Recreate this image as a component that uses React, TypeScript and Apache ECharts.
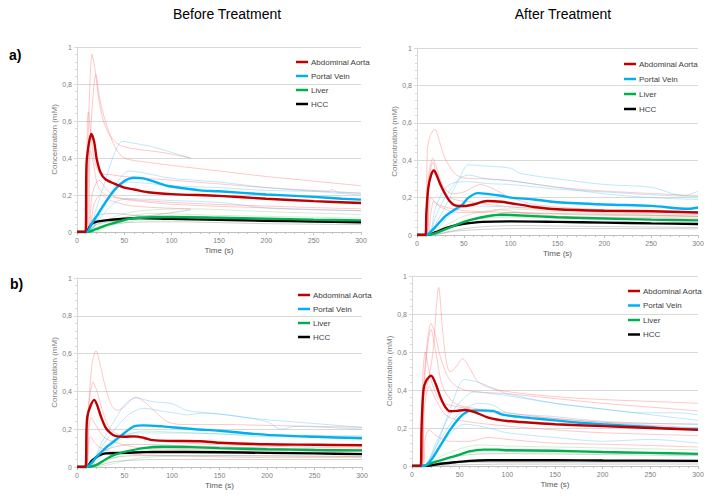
import React, { useEffect, useRef } from "react";
import * as echarts from "echarts";

// ---------- labels ----------
const COLUMN_TITLES = ["Before Treatment", "After Treatment"];
const ROW_LABELS = ["a)", "b)"];
const SERIES_NAMES = ["Abdominal Aorta", "Portal Vein", "Liver", "HCC"];
const X_NAME = "Time (s)";
const Y_NAME = "Concentration (mM)";
const X_TICKS = [0, 50, 100, 150, 200, 250, 300];
const Y_TICKS = [0, 0.2, 0.4, 0.6, 0.8, 1];

// ---------- panel a) before ----------
const aB_aortaMean = [[0,0],[9,0],[10,0.36],[12,0.46],[15,0.53],[18,0.49],[21,0.39],[25,0.32],[30,0.285],[40,0.26],[50,0.24],[60,0.23],[75,0.215],[100,0.205],[150,0.195],[200,0.18],[250,0.167],[300,0.157]];
const aB_portalMean = [[0,0],[10,0],[15,0.04],[20,0.08],[30,0.16],[40,0.23],[50,0.275],[60,0.293],[70,0.29],[80,0.275],[95,0.25],[110,0.238],[130,0.225],[150,0.22],[200,0.203],[250,0.19],[280,0.18],[300,0.175]];
const aB_liverMean = [[0,0],[10,0],[20,0.015],[30,0.035],[40,0.05],[50,0.065],[60,0.075],[80,0.08],[100,0.081],[150,0.077],[200,0.072],[250,0.067],[300,0.063]];
const aB_hccMean = [[0,0],[10,0],[13,0.025],[16,0.045],[20,0.055],[30,0.063],[50,0.072],[65,0.076],[100,0.071],[150,0.066],[200,0.061],[250,0.057],[300,0.053]];
const aB_aortaInd = [
  [[0,0],[10,0],[12,0.55],[16,0.96],[19,0.88],[23,0.72],[28,0.6],[35,0.52],[45,0.47],[60,0.45],[90,0.43],[120,0.4]],
  [[0,0],[11,0],[14,0.5],[20,0.85],[24,0.72],[30,0.6],[40,0.46],[50,0.4],[70,0.38],[100,0.36],[150,0.33],[200,0.3],[250,0.275],[300,0.25]],
  [[0,0],[9,0],[11,0.6],[12,0.65],[14,0.56],[18,0.4],[24,0.32],[35,0.31],[50,0.3],[100,0.28],[150,0.26],[200,0.24],[300,0.21]],
  [[0,0],[10,0],[12,0.35],[14,0.44],[17,0.38],[22,0.25],[30,0.2],[50,0.18],[100,0.16],[200,0.14],[300,0.125]],
  [[0,0],[11,0],[16,0.2],[23,0.28],[30,0.24],[40,0.19],[60,0.17],[100,0.15],[200,0.13],[300,0.115]],
  [[0,0],[12,0],[18,0.15],[25,0.2],[35,0.17],[60,0.14],[120,0.125]],
];
const aB_portalInd = [
  [[0,0],[12,0],[20,0.12],[30,0.28],[40,0.43],[48,0.49],[60,0.48],[80,0.46],[100,0.43],[120,0.4]],
  [[0,0],[12,0],[25,0.1],[40,0.25],[55,0.33],[70,0.32],[100,0.29],[150,0.27],[200,0.24],[250,0.22],[300,0.2]],
  [[0,0],[12,0],[25,0.12],[40,0.22],[50,0.27],[70,0.265],[100,0.25],[150,0.24],[200,0.225],[265,0.22],[270,0.23],[275,0.215],[300,0.21]],
  [[0,0],[12,0],[25,0.08],[40,0.16],[55,0.18],[100,0.17],[150,0.16],[200,0.13],[250,0.12],[300,0.115]],
];
const aB_liverInd = [
  [[0,0],[10,0],[30,0.06],[50,0.1],[80,0.12],[120,0.125],[200,0.11],[300,0.095]],
  [[0,0],[12,0],[30,0.04],[50,0.08],[80,0.1],[150,0.09],[300,0.075]],
  [[0,0],[15,0],[40,0.04],[70,0.065],[150,0.065],[300,0.055]],
];
const aB_hccInd = [
  [[0,0],[10,0],[15,0.06],[25,0.095],[40,0.1],[60,0.09],[100,0.085],[200,0.07],[300,0.06]],
  [[0,0],[10,0],[20,0.04],[40,0.06],[80,0.09],[120,0.12]],
  [[0,0],[12,0],[25,0.03],[50,0.05],[100,0.055],[200,0.045],[300,0.04]],
];

// ---------- panel a) after ----------
const aA_aortaMean = [[0,0],[9,0],[10,0.12],[12,0.25],[15,0.32],[18,0.345],[21,0.32],[25,0.27],[30,0.22],[35,0.18],[40,0.16],[50,0.155],[60,0.163],[75,0.182],[90,0.178],[100,0.17],[125,0.15],[150,0.138],[200,0.13],[250,0.127],[300,0.12]];
const aA_portalMean = [[0,0],[10,0],[15,0.02],[20,0.045],[30,0.1],[40,0.135],[48,0.16],[55,0.2],[65,0.224],[75,0.22],[90,0.21],[100,0.2],[125,0.19],[150,0.175],[200,0.163],[250,0.156],[290,0.14],[300,0.147]];
const aA_liverMean = [[0,0],[10,0],[20,0.01],[30,0.03],[40,0.05],[50,0.07],[60,0.085],[75,0.1],[90,0.108],[100,0.107],[150,0.095],[200,0.088],[250,0.082],[300,0.078]];
const aA_hccMean = [[0,0],[10,0],[20,0.015],[30,0.035],[40,0.05],[50,0.06],[70,0.07],[100,0.073],[150,0.07],[200,0.066],[250,0.062],[300,0.059]];
const aA_aortaInd = [
  [[0,0],[9,0],[11,0.45],[14,0.53],[19,0.565],[24,0.5],[30,0.41],[40,0.33],[50,0.305],[75,0.3],[100,0.29],[150,0.255],[200,0.235],[250,0.222],[300,0.21]],
  [[0,0],[10,0],[12,0.3],[17,0.41],[21,0.36],[28,0.26],[38,0.22],[50,0.23],[68,0.27],[80,0.25],[100,0.2],[130,0.16],[200,0.135],[300,0.125]],
  [[0,0],[10,0],[13,0.3],[17,0.39],[22,0.3],[30,0.22],[40,0.19],[60,0.175],[100,0.15],[150,0.135],[200,0.12],[300,0.11]],
  [[0,0],[10,0],[13,0.17],[15,0.2],[20,0.17],[30,0.15],[50,0.13],[100,0.12],[200,0.105],[300,0.1]],
  [[0,0],[11,0],[15,0.12],[18,0.18],[25,0.15],[45,0.12],[70,0.12],[90,0.135],[110,0.12],[150,0.1],[200,0.095],[300,0.09]],
];
const aA_portalInd = [
  [[0,0],[12,0],[20,0.06],[30,0.15],[45,0.3],[55,0.375],[70,0.37],[100,0.357],[110,0.33],[150,0.3],[200,0.27],[250,0.255],[285,0.21],[300,0.235]],
  [[0,0],[12,0],[20,0.1],[30,0.2],[45,0.3],[55,0.32],[75,0.3],[100,0.29],[150,0.255],[200,0.22],[250,0.2],[300,0.19]],
  [[0,0],[12,0],[20,0.15],[30,0.25],[40,0.28],[55,0.285],[75,0.275],[100,0.27],[150,0.245],[200,0.23],[250,0.215],[300,0.205]],
  [[0,0],[15,0],[30,0.08],[45,0.14],[60,0.155],[100,0.15],[150,0.14],[200,0.13],[300,0.12]],
];
const aA_liverInd = [
  [[0,0],[12,0],[30,0.05],[50,0.1],[75,0.13],[100,0.14],[150,0.125],[200,0.115],[300,0.1]],
  [[0,0],[14,0],[35,0.04],[60,0.08],[90,0.095],[150,0.09],[300,0.08]],
];
const aA_hccInd = [
  [[0,0],[12,0],[30,0.04],[60,0.08],[100,0.12],[150,0.115],[200,0.11],[300,0.1]],
  [[0,0],[14,0],[35,0.02],[60,0.04],[100,0.05],[200,0.045],[300,0.04]],
  [[0,0],[15,0],[40,0.02],[70,0.03],[120,0.035],[300,0.033]],
];

// ---------- panel b) before ----------
const bB_aortaMean = [[0,0],[9,0],[10,0.2],[11,0.27],[14,0.32],[18,0.355],[21,0.33],[25,0.27],[30,0.21],[35,0.18],[40,0.165],[50,0.16],[60,0.162],[70,0.155],[80,0.142],[100,0.138],[130,0.136],[150,0.128],[200,0.12],[250,0.118],[300,0.115]];
const bB_portalMean = [[0,0],[10,0],[15,0.02],[20,0.05],[30,0.1],[40,0.14],[50,0.18],[60,0.215],[70,0.22],[90,0.215],[100,0.21],[125,0.2],[150,0.192],[175,0.18],[200,0.17],[250,0.16],[300,0.152]];
const bB_liverMean = [[0,0],[10,0],[20,0.01],[30,0.04],[40,0.065],[50,0.08],[70,0.1],[90,0.107],[120,0.105],[150,0.1],[200,0.094],[250,0.09],[300,0.088]];
const bB_hccMean = [[0,0],[10,0],[15,0.03],[20,0.05],[25,0.065],[30,0.072],[50,0.075],[80,0.08],[150,0.078],[200,0.075],[250,0.072],[300,0.068]];
const bB_aortaInd = [
  [[0,0],[10,0],[12,0.3],[16,0.55],[20,0.615],[24,0.55],[30,0.42],[37,0.32],[43,0.3],[50,0.32],[62,0.37],[72,0.34],[85,0.28],[95,0.24],[110,0.225],[150,0.225],[200,0.22],[300,0.21]],
  [[0,0],[10,0],[12,0.3],[17,0.45],[21,0.4],[28,0.28],[35,0.2],[45,0.17],[70,0.15],[100,0.13],[200,0.11],[300,0.1]],
  [[0,0],[10,0],[12,0.18],[15,0.26],[20,0.22],[28,0.16],[40,0.13],[70,0.1],[150,0.09],[300,0.08]],
  [[0,0],[10,0],[12,0.12],[14,0.16],[20,0.12],[30,0.09],[50,0.07],[100,0.06],[200,0.05],[300,0.05]],
];
const bB_portalInd = [
  [[0,0],[12,0],[25,0.12],[40,0.25],[52,0.34],[62,0.365],[80,0.345],[100,0.335],[115,0.3],[130,0.29],[150,0.28],[180,0.26],[200,0.25],[250,0.23],[300,0.21]],
  [[0,0],[12,0],[25,0.1],[40,0.2],[55,0.28],[70,0.31],[90,0.295],[110,0.28],[115,0.275],[130,0.285],[160,0.275],[200,0.24],[215,0.2],[230,0.215],[260,0.21],[300,0.2]],
  [[0,0],[12,0],[25,0.08],[40,0.15],[60,0.18],[100,0.18],[150,0.175],[200,0.16],[300,0.16]],
];
const bB_liverInd = [
  [[0,0],[12,0],[30,0.08],[50,0.16],[70,0.19],[100,0.185],[150,0.175],[200,0.17],[300,0.165]],
  [[0,0],[15,0],[35,0.04],[60,0.08],[100,0.1],[200,0.09],[300,0.085]],
  [[0,0],[18,0],[40,0.02],[70,0.05],[150,0.06],[300,0.055]],
];
const bB_hccInd = [
  [[0,0],[10,0],[20,0.06],[35,0.1],[60,0.12],[100,0.115],[200,0.1],[300,0.09]],
  [[0,0],[12,0],[30,0.04],[60,0.06],[150,0.06],[300,0.055]],
  [[0,0],[14,0],[40,0.03],[100,0.04],[300,0.04]],
];

// ---------- panel b) after ----------
const bA_aortaMean = [[0,0],[9,0],[10,0.2],[12,0.4],[15,0.45],[20,0.475],[25,0.43],[30,0.36],[35,0.31],[40,0.288],[47,0.29],[55,0.295],[65,0.285],[80,0.255],[100,0.237],[125,0.228],[150,0.22],[200,0.21],[250,0.2],[300,0.19]];
const bA_portalMean = [[0,0],[12,0],[20,0.03],[30,0.11],[40,0.19],[50,0.255],[60,0.29],[70,0.293],[85,0.29],[95,0.27],[110,0.26],[125,0.252],[150,0.24],[175,0.228],[200,0.22],[250,0.205],[270,0.198],[300,0.195]];
const bA_liverMean = [[0,0],[12,0],[20,0.015],[30,0.03],[40,0.045],[50,0.06],[60,0.077],[75,0.086],[90,0.086],[100,0.083],[150,0.08],[200,0.074],[250,0.069],[300,0.064]];
const bA_hccMean = [[0,0],[15,0],[30,0.012],[45,0.02],[60,0.027],[80,0.03],[150,0.03],[200,0.029],[300,0.027]];
const bA_aortaInd = [
  [[0,0],[10,0],[12,0.35],[17,0.45],[22,0.6],[28,0.94],[32,0.72],[36,0.55],[40,0.495],[46,0.52],[53,0.565],[60,0.52],[70,0.44],[90,0.4],[150,0.365],[200,0.35],[250,0.34],[300,0.33]],
  [[0,0],[10,0],[12,0.4],[16,0.65],[20,0.75],[24,0.7],[30,0.57],[40,0.45],[55,0.4],[100,0.38],[150,0.355],[200,0.33],[250,0.31],[300,0.29]],
  [[0,0],[10,0],[11,0.45],[14,0.6],[17,0.52],[22,0.42],[30,0.34],[50,0.31],[100,0.27],[150,0.25],[200,0.23],[300,0.2]],
  [[0,0],[10,0],[13,0.45],[20,0.72],[25,0.6],[32,0.42],[45,0.33],[70,0.3],[100,0.28],[150,0.25],[200,0.23],[300,0.22]],
  [[0,0],[10,0],[13,0.3],[18,0.42],[24,0.36],[35,0.27],[50,0.24],[100,0.21],[150,0.19],[200,0.175],[300,0.16]],
  [[0,0],[11,0],[14,0.15],[18,0.19],[25,0.16],[40,0.13],[60,0.13],[80,0.15],[100,0.14],[150,0.12],[200,0.115],[300,0.1]],
];
const bA_portalInd = [
  [[0,0],[12,0],[25,0.1],[40,0.3],[50,0.43],[55,0.455],[70,0.44],[85,0.41],[100,0.38],[150,0.33],[200,0.3],[250,0.27],[300,0.24]],
  [[0,0],[12,0],[25,0.12],[40,0.27],[55,0.36],[65,0.39],[85,0.38],[100,0.37],[150,0.33],[200,0.3],[240,0.28],[280,0.28],[300,0.27]],
  [[0,0],[12,0],[25,0.1],[40,0.22],[55,0.3],[70,0.33],[85,0.32],[100,0.28],[150,0.26],[200,0.235],[250,0.225],[300,0.22]],
  [[0,0],[12,0],[25,0.08],[40,0.17],[55,0.22],[80,0.2],[100,0.175],[150,0.15],[200,0.13],[250,0.14],[300,0.12]],
];
const bA_liverInd = [
  [[0,0],[12,0],[30,0.05],[50,0.09],[70,0.11],[100,0.105],[150,0.1],[200,0.095],[300,0.085]],
  [[0,0],[14,0],[35,0.04],[60,0.07],[90,0.075],[150,0.07],[300,0.065]],
];
const bA_hccInd = [
  [[0,0],[12,0],[30,0.03],[60,0.06],[100,0.065],[200,0.06],[300,0.055]],
  [[0,0],[15,0],[40,0.005],[100,0.01],[300,0.01]],
  [[0,0],[15,0],[40,0.015],[80,0.02],[300,0.02]],
];

// ---------- styles / layout ----------
const MEAN_COLORS = ["#C00000", "#00B0F0", "#00B050", "#000000"];
const IND_COLORS = ["rgba(255,110,110,0.38)", "rgba(90,195,240,0.38)", "rgba(110,200,110,0.3)", "rgba(140,140,140,0.4)"];
const FONT = "'Liberation Sans', Arial, sans-serif";

const PANELS = [
  { grid: { left: 77, top: 47, width: 284, height: 185 }, legend: { left: 296, top: 57, gap: 4 },
    means: [aB_aortaMean, aB_portalMean, aB_liverMean, aB_hccMean], inds: [aB_aortaInd, aB_portalInd, aB_liverInd, aB_hccInd] },
  { grid: { left: 417, top: 48, width: 281, height: 187 }, legend: { left: 624, top: 59, gap: 5 },
    means: [aA_aortaMean, aA_portalMean, aA_liverMean, aA_hccMean], inds: [aA_aortaInd, aA_portalInd, aA_liverInd, aA_hccInd] },
  { grid: { left: 77, top: 278, width: 285, height: 189 }, legend: { left: 298, top: 290, gap: 4 },
    means: [bB_aortaMean, bB_portalMean, bB_liverMean, bB_hccMean], inds: [bB_aortaInd, bB_portalInd, bB_liverInd, bB_hccInd] },
  { grid: { left: 412, top: 276, width: 286, height: 190 }, legend: { left: 628, top: 286, gap: 4.5 },
    means: [bA_aortaMean, bA_portalMean, bA_liverMean, bA_hccMean], inds: [bA_aortaInd, bA_portalInd, bA_liverInd, bA_hccInd] },
];

export default function App() {
  const ref = useRef<HTMLDivElement>(null);
  useEffect(() => {
    if (!ref.current) return;
    const chart = echarts.init(ref.current, null, { renderer: "svg" });
    const grids: any[] = [];
    const xAxes: any[] = [];
    const yAxes: any[] = [];
    const legends: any[] = [];
    const series: any[] = [];
    PANELS.forEach((p, i) => {
      grids.push({ ...p.grid });
      xAxes.push({
        type: "value", gridIndex: i, min: X_TICKS[0], max: X_TICKS[X_TICKS.length - 1], interval: X_TICKS[1] - X_TICKS[0],
        name: X_NAME, nameLocation: "middle", nameGap: 14,
        nameTextStyle: { fontSize: 8, color: "#595959", fontFamily: FONT },
        axisLine: { lineStyle: { color: "#BFBFBF", width: 1 } },
        axisTick: { show: true, length: 3, lineStyle: { color: "#BFBFBF" } },
        minorTick: { show: true, splitNumber: 5, length: 2, lineStyle: { color: "#BFBFBF" } },
        splitLine: { show: false },
        axisLabel: { fontSize: 7, color: "#808080", margin: 5, fontFamily: FONT },
      });
      yAxes.push({
        type: "value", gridIndex: i, min: Y_TICKS[0], max: Y_TICKS[Y_TICKS.length - 1], interval: Y_TICKS[1] - Y_TICKS[0],
        name: Y_NAME, nameLocation: "middle", nameGap: 17,
        nameTextStyle: { fontSize: 8, color: "#808080", fontFamily: FONT },
        axisLine: { show: true, lineStyle: { color: "#D9D9D9", width: 1 } },
        axisTick: { show: true, length: 3, lineStyle: { color: "#D9D9D9" } },
        minorTick: { show: true, splitNumber: 5, length: 2, lineStyle: { color: "#D9D9D9" } },
        splitLine: { show: true, lineStyle: { color: "#D9D9D9", width: 1 } },
        axisLabel: {
          fontSize: 7, color: "#808080", margin: 5, fontFamily: FONT,
          formatter: (v: number) => String(Math.round(v * 10) / 10).replace(".", ","),
        },
      });
      legends.push({
        data: SERIES_NAMES, orient: "vertical", left: p.legend.left, top: p.legend.top, padding: 0,
        itemGap: p.legend.gap, itemWidth: 12, itemHeight: 2.5, icon: "rect", selectedMode: false,
        textStyle: { fontSize: 8, color: "#404040", fontFamily: FONT, lineHeight: 10, padding: [0, 0, 0, -2] },
      });
      p.inds.forEach((group, k) => {
        group.forEach((d, j) => {
          series.push({
            type: "line", id: `ind-${i}-${k}-${j}`, xAxisIndex: i, yAxisIndex: i, data: d,
            showSymbol: false, symbol: "none", smooth: 0.3, silent: true, z: 2,
            lineStyle: { color: IND_COLORS[k], width: 1 }, itemStyle: { color: IND_COLORS[k] },
          });
        });
      });
      p.means.forEach((d, k) => {
        series.push({
          type: "line", name: SERIES_NAMES[k], xAxisIndex: i, yAxisIndex: i, data: d,
          showSymbol: false, symbol: "none", smooth: 0.3, silent: true, z: 5 + (3 - k),
          lineStyle: { color: MEAN_COLORS[k], width: 2.4 }, itemStyle: { color: MEAN_COLORS[k] },
        });
      });
    });
    const graphic: any[] = [
      { type: "text", x: 227, y: 14, style: { text: COLUMN_TITLES[0], fontSize: 14, fontFamily: FONT, fill: "#000", align: "center", verticalAlign: "middle" } },
      { type: "text", x: 563, y: 14, style: { text: COLUMN_TITLES[1], fontSize: 14, fontFamily: FONT, fill: "#000", align: "center", verticalAlign: "middle" } },
      { type: "text", x: 9, y: 55, style: { text: ROW_LABELS[0], fontSize: 14, fontWeight: "bold", fontFamily: FONT, fill: "#000", align: "left", verticalAlign: "middle" } },
      { type: "text", x: 10, y: 284, style: { text: ROW_LABELS[1], fontSize: 14, fontWeight: "bold", fontFamily: FONT, fill: "#000", align: "left", verticalAlign: "middle" } },
    ];
    chart.setOption({
      animation: false,
      backgroundColor: "#ffffff",
      grid: grids, xAxis: xAxes, yAxis: yAxes, legend: legends, series, graphic,
    });
    return () => chart.dispose();
  }, []);
  return <div ref={ref} style={{ position: "fixed", left: 0, top: 0, width: 712, height: 502, background: "#fff" }} />;
}
